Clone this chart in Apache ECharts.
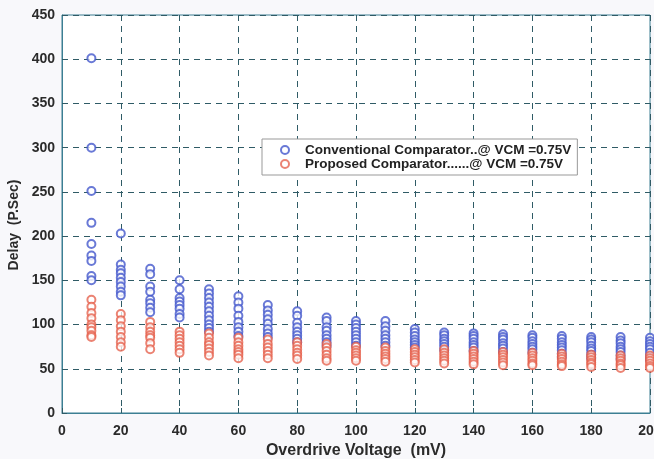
<!DOCTYPE html>
<html>
<head>
<meta charset="utf-8">
<script src="https://cdn.jsdelivr.net/npm/echarts@6/dist/echarts.min.js"></script>
<style>
html,body{margin:0;padding:0;background:#f8f8fb;}
#chart{width:654px;height:459px;}
</style>
</head>
<body>
<div id="chart"></div>
<script>
const xValues = [10,20,30,40,50,60,70,80,90,100,110,120,130,140,150,160,170,180,190,200];
const conventional = [
  [401,300,251,215,191,178,172,155,150],
  [203,168,162,158,153,148,143,137,133],
  [163,157,143,137,128,124,119,114],
  [150,140,130,126,122,118,112,108],
  [140,135,130,125,120,115,110,105,100,96,92],
  [132,125,118,110,103,97,92,87],
  [122,116,111,106,101,95,90,86],
  [115,110,102,97,92,88,84,80],
  [108,104,97,93,88,84,80,76],
  [104,100,96,92,88,84,80,76],
  [104,98,93,88,84,80,76],
  [95,91,87,83,80,77,74],
  [91,88,84,81,78,75,71],
  [90,87,84,80,77,74,70],
  [89,86,83,79,76,73,69],
  [88,85,81,78,75,72,68],
  [87,84,80,77,74,71,67,63],
  [86,83,80,76,73,70,66,62],
  [86,82,79,75,72,69,65,61],
  [85,81,78,75,72,68,64,60]
];
const proposed = [
  [128,120,113,107,100,97,93,88,86],
  [112,105,98,92,86,80,75],
  [103,97,92,88,85,79,72],
  [92,88,84,80,76,72,68],
  [90,85,80,77,73,69,65],
  [85,80,76,72,69,66,62],
  [83,78,74,70,66,62],
  [80,76,72,68,65,61],
  [78,74,70,66,62,59],
  [75,71,68,65,62,59],
  [74,70,67,64,61,58],
  [72,69,66,63,60,57],
  [72,68,65,62,59,56],
  [70,67,64,61,58,55],
  [69,66,63,60,57,54],
  [68,65,62,59,56,54],
  [67,64,61,58,55,53],
  [66,63,60,57,55,52],
  [65,62,59,56,54,51],
  [65,62,59,56,53,51]
];
const xTicks = [0,20,40,60,80,100,120,140,160,180,200];
const yTicks = [0,50,100,150,200,250,300,350,400,450];

function pairs(cols){
  const out = [];
  cols.forEach((col,i)=>col.forEach(v=>out.push([xValues[i], v])));
  return out;
}

const blue = '#4457cc';
const red = '#e45a44';
const gridCol = '#2f5b66';
const labelStyle = {color:'#2b2b2b', fontWeight:'bold', fontSize:14, fontFamily:'Liberation Sans, Arial, sans-serif'};

const chart = echarts.init(document.getElementById('chart'));
chart.setOption({
  backgroundColor:'#f8f8fb',
  animation:false,
  grid:{left:62, right:4, top:15, bottom:46, outerBoundsMode:'none', containLabel:false, show:true, backgroundColor:'#ffffff', borderColor:'#3c7f93', borderWidth:1},
  legend:{
    left:262, top:139, orient:'vertical', itemGap:0,
    backgroundColor:'#ffffff', borderColor:'#999999', borderWidth:1,
    padding:[4,6,4,18],
    itemWidth:14, itemHeight:8,
    textStyle:{color:'#222', fontWeight:'bold', fontSize:13.5, fontFamily:'Liberation Sans, Arial, sans-serif', padding:[0,0,0,8]},
    data:['Conventional Comparator..@ VCM =0.75V','Proposed Comparator......@ VCM =0.75V']
  },
  xAxis:{
    type:'value', min:0, max:200, interval:20,
    name:'Overdrive Voltage  (mV)', nameLocation:'middle', nameGap:25,
    nameTextStyle:{color:'#2b2b2b', fontWeight:'bold', fontSize:16, fontFamily:'Liberation Sans, Arial, sans-serif'},
    axisLine:{show:true, lineStyle:{color:'#3c7f93'}},
    axisTick:{show:true, inside:true, length:5, lineStyle:{color:gridCol}},
    axisLabel:Object.assign({margin:11, formatter:v=>xTicks.includes(v)?String(v):''}, labelStyle),
    splitLine:{show:true, lineStyle:{color:gridCol, type:[6,5], width:1}}
  },
  yAxis:{
    type:'value', min:0, max:450, interval:50,
    name:'Delay  (P.Sec)', nameLocation:'middle', nameGap:35, nameRotate:90,
    nameTextStyle:{color:'#2b2b2b', fontWeight:'bold', fontSize:14, fontFamily:'Liberation Sans, Arial, sans-serif', padding:[0,22,0,0]},
    axisLine:{show:true, lineStyle:{color:'#3c7f93'}},
    axisTick:{show:true, inside:true, length:5, lineStyle:{color:gridCol}},
    axisLabel:Object.assign({margin:7, formatter:v=>yTicks.includes(v)?String(v):''}, labelStyle),
    splitLine:{show:true, lineStyle:{color:gridCol, type:[6,5], width:1}}
  },
  series:[
    {name:'Conventional Comparator..@ VCM =0.75V', type:'scatter', symbol:'emptyCircle', symbolSize:8,
     itemStyle:{color:blue, borderColor:blue, borderWidth:1.2, opacity:0.8}, data:pairs(conventional), z:2},
    {name:'Proposed Comparator......@ VCM =0.75V', type:'scatter', symbol:'emptyCircle', symbolSize:8,
     itemStyle:{color:red, borderColor:red, borderWidth:1.2, opacity:0.75}, data:pairs(proposed), z:3}
  ]
});
</script>
</body>
</html>
